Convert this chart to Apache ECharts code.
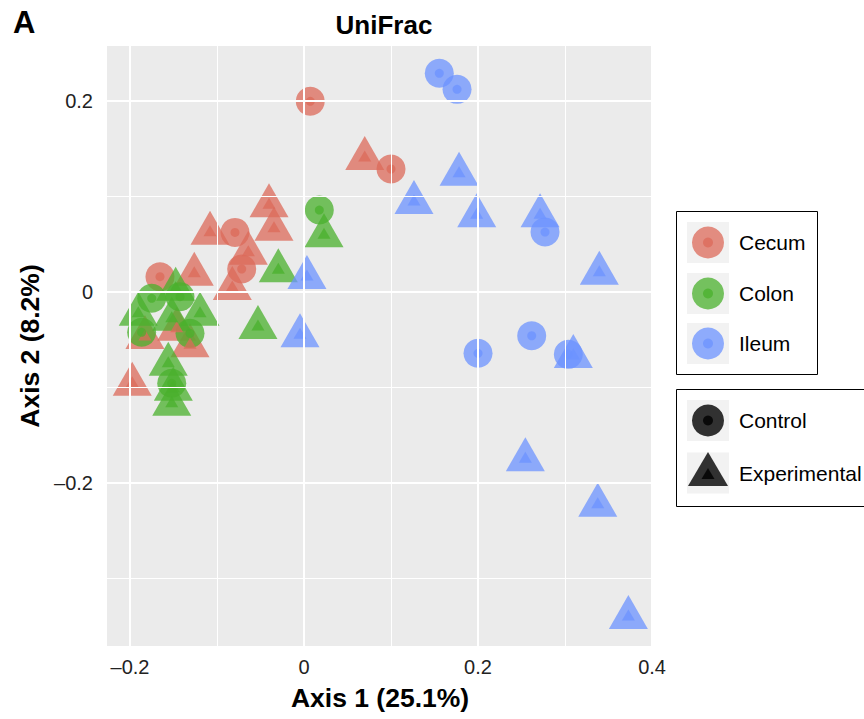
<!DOCTYPE html>
<html><head><meta charset="utf-8">
<script src="https://cdn.jsdelivr.net/npm/echarts@6/dist/echarts.min.js"></script>
<style>html,body{margin:0;padding:0;background:#fff}#chart{width:864px;height:719px}</style>
</head><body><div id="chart"></div>
<script>
// ---------- data ----------
const panelTag = 'A';
const chartTitle = 'UniFrac';
const xName = 'Axis 1 (25.1%)';
const yName = 'Axis 2 (8.2%)';
const groups = ['Cecum', 'Colon', 'Ileum'];
const treatments = ['Control', 'Experimental'];

const cecumControl = [[0.0072, 0.1994], [0.1000, 0.1285], [-0.0793, 0.0621], [-0.0716, 0.0238], [-0.1655, 0.0157]];
const cecumExperimental = [[0.0698, 0.1421], [-0.0402, 0.0926], [-0.0345, 0.0681], [-0.1080, 0.0639], [-0.0640, 0.0430],
  [-0.1261, 0.0209], [-0.0824, 0.0060], [-0.1974, -0.0942], [-0.1828, -0.0453], [-0.1463, -0.0366], [-0.1310, -0.0540]];
const colonControl = [[0.0176, 0.0855], [-0.1750, -0.0069], [-0.1425, -0.0052], [-0.1866, -0.0425], [-0.1310, -0.0436], [-0.1520, -0.0959]];
const colonExperimental = [[0.0230, 0.0612], [-0.0295, 0.0245], [-0.0529, -0.0349], [-0.1475, 0.0052], [-0.1905, -0.0209],
  [-0.1195, -0.0209], [-0.1520, -0.0262], [-0.1560, -0.0733], [-0.1502, -0.0995], [-0.1520, -0.1152]];
const ileumControl = [[0.1555, 0.2287], [0.1759, 0.2119], [0.2770, 0.0625], [0.2000, -0.0645], [0.2617, -0.0461], [0.3038, -0.0656]];
const ileumExperimental = [[0.1782, 0.1257], [0.1264, 0.0960], [0.1985, 0.0821], [0.2713, 0.0821], [0.3394, 0.0220],
  [0.0034, 0.0175], [-0.0046, -0.0436], [0.3095, -0.0652], [0.2544, -0.1734], [0.3376, -0.2209], [0.3728, -0.3385]];

const xTicks = [-0.2, 0, 0.2, 0.4];
const xMinor = [-0.1, 0.1, 0.3];
const yTicks = [-0.2, 0, 0.2];
const yMinor = [-0.3, -0.1, 0.1];

// ---------- styling ----------
const FONT = '"Liberation Sans", Arial, Helvetica, sans-serif';
const colors = { Cecum: '#DC6A5A', Colon: '#4AB02C', Ileum: '#6C93FF' };
const OPA = 0.75;
const dataBy = {
  Cecum: { Control: cecumControl, Experimental: cecumExperimental },
  Colon: { Control: colonControl, Experimental: colonExperimental },
  Ileum: { Control: ileumControl, Experimental: ileumExperimental }
};
const shapeOf = { Control: 'circle', Experimental: 'triangle' };
const bigSize = { Control: 29, Experimental: [39, 34] };
const smallSize = { Control: 9, Experimental: [13, 11] };
const bigOffset = { Control: [0, 0], Experimental: [0, -3] };

const fmt = v => v === 0 ? '0' : (v < 0 ? '\u2013' + String(Math.abs(v)) : String(v));

const series = [];
// grid lines via markLine
const gl = [];
xTicks.forEach(v => gl.push({ xAxis: v, lineStyle: { width: 2 } }));
xMinor.forEach(v => gl.push({ xAxis: v, lineStyle: { width: 1 } }));
yTicks.forEach(v => gl.push({ yAxis: v, lineStyle: { width: 2 } }));
yMinor.forEach(v => gl.push({ yAxis: v, lineStyle: { width: 1 } }));
series.push({
  type: 'scatter', name: 'grid', data: [], z: 1, silent: true,
  markLine: { silent: true, symbol: ['none', 'none'], label: { show: false }, animation: false,
    lineStyle: { color: '#FFFFFF', type: 'solid' }, emphasis: { disabled: true }, data: gl }
});
// outer marks
groups.forEach(g => treatments.forEach(t => {
  series.push({
    type: 'scatter', name: g, z: 3, data: dataBy[g][t], symbol: shapeOf[t], symbolSize: bigSize[t],
    symbolOffset: bigOffset[t], itemStyle: { color: colors[g], opacity: OPA }, silent: true
  });
}));
// inner marks
groups.forEach(g => treatments.forEach(t => {
  series.push({
    type: 'scatter', name: g, z: 4, data: dataBy[g][t], symbol: shapeOf[t], symbolSize: smallSize[t],
    itemStyle: { color: colors[g], opacity: OPA }, silent: true
  });
}));

// ---------- legend as graphic ----------
const graphic = [];
const lx = 676, keyX = 687, keyW = 42, keyH = 41, cx = 708, textX = 739;
graphic.push({ type: 'rect', shape: { x: lx + 0.5, y: 211.5, width: 141, height: 163 }, style: { fill: '#fff', stroke: '#000', lineWidth: 1 } });
const legYs = [242.5, 293.5, 343.5];
groups.forEach((g, i) => {
  const y = legYs[i];
  graphic.push({ type: 'rect', shape: { x: keyX, y: y - keyH / 2, width: keyW, height: keyH }, style: { fill: '#F2F2F2' } });
  graphic.push({ type: 'circle', shape: { cx: cx, cy: y, r: 16 }, style: { fill: colors[g], opacity: OPA } });
  graphic.push({ type: 'circle', shape: { cx: cx, cy: y, r: 5 }, style: { fill: colors[g], opacity: OPA } });
  graphic.push({ type: 'text', style: { text: g, x: textX, y: y, font: '21px ' + FONT, fill: '#000', verticalAlign: 'middle' } });
});
graphic.push({ type: 'rect', shape: { x: lx + 0.5, y: 389.5, width: 220, height: 117 }, style: { fill: '#fff', stroke: '#000', lineWidth: 1 } });
const shapeYs = [420.5, 473];
graphic.push({ type: 'rect', shape: { x: keyX, y: shapeYs[0] - keyH / 2, width: keyW, height: keyH }, style: { fill: '#F2F2F2' } });
graphic.push({ type: 'circle', shape: { cx: cx, cy: shapeYs[0], r: 16 }, style: { fill: '#000', opacity: 0.8 } });
graphic.push({ type: 'circle', shape: { cx: cx, cy: shapeYs[0], r: 5 }, style: { fill: '#000', opacity: 0.8 } });
graphic.push({ type: 'text', style: { text: treatments[0], x: textX, y: shapeYs[0], font: '21px ' + FONT, fill: '#000', verticalAlign: 'middle' } });
graphic.push({ type: 'rect', shape: { x: keyX, y: shapeYs[1] - keyH / 2, width: keyW, height: keyH }, style: { fill: '#F2F2F2' } });
graphic.push({ type: 'polygon', shape: { points: [[cx, 452], [cx + 20, 486], [cx - 20, 486]] }, style: { fill: '#000', opacity: 0.8 } });
graphic.push({ type: 'polygon', shape: { points: [[cx, 468], [cx + 6.5, 479], [cx - 6.5, 479]] }, style: { fill: '#000', opacity: 0.8 } });
graphic.push({ type: 'text', style: { text: treatments[1], x: textX, y: shapeYs[1], font: '21px ' + FONT, fill: '#000', verticalAlign: 'middle' } });
// panel tag
graphic.push({ type: 'text', style: { text: panelTag, x: 13, y: 7, font: 'bold 31px ' + FONT, fill: '#000' } });

const option = {
  animation: false,
  backgroundColor: '#FFFFFF',
  title: {
    text: chartTitle, left: 379, top: 7, textAlign: 'center',
    textStyle: { fontFamily: FONT, fontWeight: 'bold', fontSize: 26, color: '#000' }
  },
  grid: { left: 107, top: 46, width: 546, height: 600, show: true, backgroundColor: '#EBEBEB', borderWidth: 0, containLabel: false },
  xAxis: {
    type: 'value', min: -0.2264, max: 0.4011,
    name: xName, nameLocation: 'middle', nameGap: 38,
    nameTextStyle: { fontFamily: FONT, fontWeight: 'bold', fontSize: 26.5, color: '#000' },
    axisLine: { show: false },
    splitLine: { show: false },
    axisTick: { show: true, customValues: xTicks, length: 6, lineStyle: { color: '#333', width: 2 } },
    axisLabel: { customValues: xTicks, formatter: fmt, margin: 11, fontFamily: FONT, fontSize: 20, color: '#222' }
  },
  yAxis: {
    type: 'value', min: -0.371, max: 0.2573,
    name: yName, nameLocation: 'middle', nameGap: 58, nameRotate: 90,
    nameTextStyle: { fontFamily: FONT, fontWeight: 'bold', fontSize: 26.5, color: '#000' },
    axisLine: { show: false },
    splitLine: { show: false },
    axisTick: { show: true, customValues: yTicks, length: 6, lineStyle: { color: '#333', width: 2 } },
    axisLabel: { customValues: yTicks, formatter: fmt, margin: 14, fontFamily: FONT, fontSize: 20, color: '#222' }
  },
  graphic: graphic,
  series: series
};
const chart = echarts.init(document.getElementById('chart'), null, { renderer: 'svg' });
chart.setOption(option);
</script></body></html>
